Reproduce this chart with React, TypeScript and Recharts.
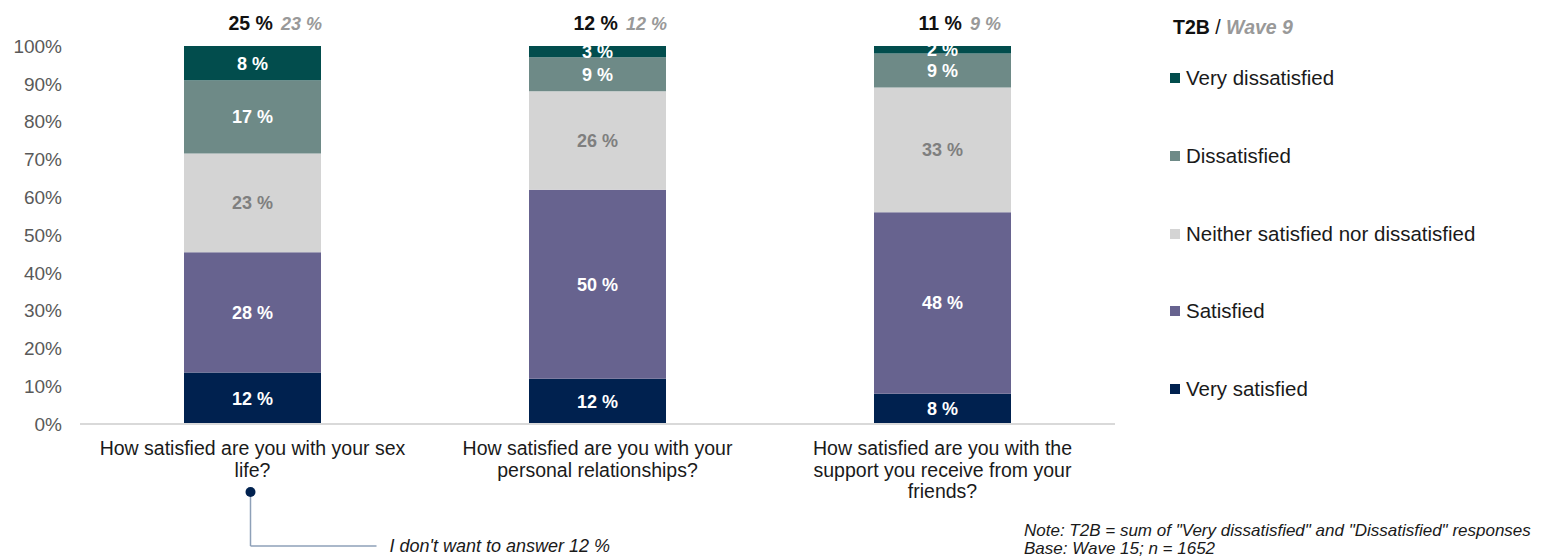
import { BarChart, Bar, XAxis, YAxis, LabelList } from 'recharts'

const categories = [
  'How satisfied are you with your sex\nlife?',
  'How satisfied are you with your\npersonal relationships?',
  'How satisfied are you with the\nsupport you receive from your\nfriends?',
]
const verySatisfied = [12, 12, 8]
const satisfied = [28, 50, 48]
const neither = [23, 26, 33]
const dissatisfied = [17, 9, 9]
const veryDissatisfied = [8, 3, 2]
const t2b = [25, 12, 11]
const wave9 = [23, 12, 9]
const yTicks = [0, 0.1, 0.2, 0.3, 0.4, 0.5, 0.6, 0.7, 0.8, 0.9, 1]

const series = [
  { key: 'verySatisfied', name: 'Very satisfied', color: '#00214f', text: '#ffffff' },
  { key: 'satisfied', name: 'Satisfied', color: '#67638f', text: '#ffffff' },
  { key: 'neither', name: 'Neither satisfied nor dissatisfied', color: '#d4d4d4', text: '#7f7f7f' },
  { key: 'dissatisfied', name: 'Dissatisfied', color: '#6e8a87', text: '#ffffff' },
  { key: 'veryDissatisfied', name: 'Very dissatisfied', color: '#024d4d', text: '#ffffff' },
]

const data = categories.map((name, i) => ({
  name,
  verySatisfied: verySatisfied[i],
  satisfied: satisfied[i],
  neither: neither[i],
  dissatisfied: dissatisfied[i],
  veryDissatisfied: veryDissatisfied[i],
}))

const FONT = '"Liberation Sans", Arial, sans-serif'

function CategoryTick({ x, y, payload, index }: any) {
  const lines = String(payload.value).split('\n')
  return (
    <g>
      <text x={x} y={y + 23} textAnchor="middle" fontSize={19.5} fill="#1a1a1a" fontFamily={FONT}>
        {lines.map((l, i) => (
          <tspan key={i} x={x} dy={i === 0 ? 0 : 21.5}>
            {l}
          </tspan>
        ))}
      </text>
      {index === 0 && (
        <g>
          <line x1={x - 2} y1={y + 60} x2={x - 2} y2={y + 114} stroke="#8ea0b8" strokeWidth={1.5} />
          <line x1={x - 2} y1={y + 114} x2={x + 124} y2={y + 114} stroke="#8ea0b8" strokeWidth={1.5} />
          <circle cx={x - 2} cy={y + 60} r={5} fill="#00214f" />
          <text x={x + 137} y={y + 120} fontSize={18} fontStyle="italic" fill="#1a1a1a" fontFamily={FONT}>
            I don't want to answer 12 %
          </text>
        </g>
      )}
    </g>
  )
}

function TopLabel({ x, y, width, index }: any) {
  const cx = x + width / 2
  return (
    <text x={cx - 24} y={y - 16} fontFamily={FONT}>
      <tspan fontSize={19.5} fontWeight="bold" fill="#111">{`${t2b[index]} %`}</tspan>
      <tspan dx={8} fontSize={18} fontWeight="bold" fontStyle="italic" fill="#999">{`${wave9[index]} %`}</tspan>
    </text>
  )
}

export default function App() {
  return (
    <div style={{ position: 'absolute', left: 0, top: 0, width: 1548, height: 558, background: '#fff', fontFamily: FONT }}>
      <BarChart
        width={1548}
        height={558}
        data={data}
        stackOffset="expand"
        barCategoryGap={104}
        margin={{ top: 46, right: 433, left: 10, bottom: 104 }}
      >
        <XAxis
          dataKey="name"
          height={30}
          axisLine={{ stroke: '#d9d9d9', strokeWidth: 2 }}
          tickLine={false}
          tick={<CategoryTick />}
          interval={0}
        />
        <YAxis
          width={70}
          domain={[0, 1]}
          ticks={yTicks}
          tickFormatter={(v: number) => `${Math.round(v * 100)}%`}
          axisLine={false}
          tickLine={false}
          tickMargin={12}
          tick={{ fontSize: 19, fill: '#595959', fontFamily: FONT }}
        />
        {series.map((s, si) => (
          <Bar key={s.key} dataKey={s.key} stackId="a" fill={s.color} isAnimationActive={false}>
            <LabelList
              dataKey={s.key}
              position="center"
              formatter={(v: any) => `${v} %`}
              style={{ fontSize: 18, fontWeight: 'bold', fill: s.text, fontFamily: FONT }}
            />
            {si === series.length - 1 && <LabelList dataKey={s.key} content={<TopLabel />} />}
          </Bar>
        ))}
      </BarChart>

      <div style={{ position: 'absolute', left: 1173, top: 16, fontSize: 19.5, whiteSpace: 'nowrap' }}>
        <span style={{ fontWeight: 'bold', color: '#111' }}>T2B</span>
        <span style={{ color: '#111' }}> / </span>
        <span style={{ fontWeight: 'bold', fontStyle: 'italic', color: '#999' }}>Wave 9</span>
      </div>
      {[...series].reverse().map((s, i) => (
        <div
          key={s.key}
          style={{
            position: 'absolute',
            left: 1170,
            top: 66 + i * 77.8,
            display: 'flex',
            alignItems: 'center',
            fontSize: 20.5,
            color: '#1a1a1a',
            whiteSpace: 'nowrap',
          }}
        >
          <span style={{ width: 10, height: 10, background: s.color, marginRight: 6, display: 'inline-block' }} />
          {s.name}
        </div>
      ))}

      <div style={{ position: 'absolute', left: 1024, top: 522, fontSize: 17, fontStyle: 'italic', color: '#1a1a1a', lineHeight: '18px', whiteSpace: 'nowrap' }}>
        <div>Note: T2B = sum of "Very dissatisfied" and "Dissatisfied" responses</div>
        <div>Base: Wave 15; n = 1652</div>
      </div>
    </div>
  )
}
